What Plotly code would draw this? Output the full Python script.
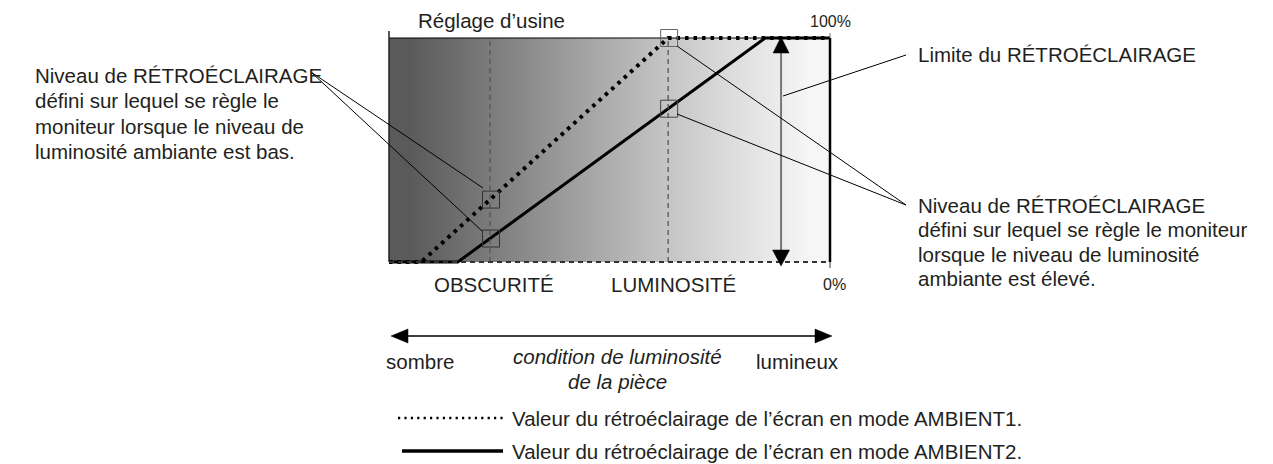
import numpy as np
import plotly.graph_objects as go

# ---------------- data ----------------
# room brightness (0 = dark, 100 = bright) vs backlight level (%)
amb1_x = [0, 7.3, 63.3, 100]      # AMBIENT1 (dotted)
amb1_y = [0, 0, 100, 100]
amb2_x = [0, 15.6, 85.3, 100]     # AMBIENT2 (solid)
amb2_y = [0, 0, 100, 100]
obscurite_x = 22.9                # OBSCURITÉ reference condition
luminosite_x = 63.3               # LUMINOSITÉ reference condition
limit_x = 88.9                    # backlight limit arrow
grad_gray = [90, 106, 123, 140, 157, 174, 190, 205, 220, 233, 246]   # background shade, dark -> bright

left_lines = ["Niveau de RÉTROÉCLAIRAGE", "défini sur lequel se règle le",
              "moniteur lorsque le niveau de", "luminosité ambiante est bas."]
right_lines = ["Niveau de RÉTROÉCLAIRAGE", "défini sur lequel se règle le moniteur",
               "lorsque le niveau de luminosité", "ambiante est élevé."]
legend_labels = ["Valeur du rétroéclairage de l’écran en mode AMBIENT1.",
                 "Valeur du rétroéclairage de l’écran en mode AMBIENT2."]

# ---------------- layout helpers (page pixel -> data) ----------------
W, H = 1273, 464
OFF = 8                           # default page margin around the plot div
L, R, T, B = 389, 830, 38, 262
sx = (R - L) / 100.0
sy = (B - T) / 100.0
def X(px): return (px - L) / sx
def Y(py): return (B - py) / sy

FONT = "Liberation Sans, Arial, Helvetica, sans-serif"
TXT = "#231f20"

fig = go.Figure()

# background gradient
n = len(grad_gray)
centers = [(i + 0.5) * 100.0 / n for i in range(n)]
fig.add_trace(go.Heatmap(
    x=centers, y=[25, 75], z=[grad_gray, grad_gray],
    zmin=0, zmax=255, colorscale=[[0, "rgb(0,0,0)"], [1, "rgb(255,255,255)"]],
    zsmooth="best", showscale=False, hoverinfo="skip"))

shapes = []
def line(x0, y0, x1, y1, color="black", width=1, dash="solid"):
    shapes.append(dict(type="line", xref="x", yref="y", x0=x0, y0=y0, x1=x1, y1=y1,
                       line=dict(color=color, width=width, dash=dash), layer="above"))

# reference dashed verticals
for xv in (obscurite_x, luminosite_x):
    line(xv, 0, xv, 100, color="#555555", width=1.3, dash="5px,4px")

# series
fig.add_trace(go.Scatter(x=amb2_x, y=amb2_y, mode="lines", name="AMBIENT2",
                         line=dict(color="black", width=3), hoverinfo="skip"))
fig.add_trace(go.Scatter(x=amb1_x, y=amb1_y, mode="lines", name="AMBIENT1",
                         line=dict(color="black", width=4, dash="3.5px,5px"), hoverinfo="skip"))

# frame
line(0, 100, 100, 100, color="black", width=1)
line(0, 0, 0, Y(31), color="#222222", width=1.5)
line(0, 0, 100, 0, color="#333333", width=1.8, dash="5px,4px")
line(100, 0, 100, 100, color="black", width=2.5)
line(100, 100, 100, Y(33), color="#777777", width=1)
line(100, 0, 100, Y(268), color="#777777", width=1.5)

# backlight limit double arrow
line(limit_x, Y(52), limit_x, Y(251), color="#777777", width=2)
ax = L + limit_x * sx
def tri(p):
    return "M " + " L ".join(f"{X(a)},{Y(b)}" for a, b in p) + " Z"
shapes.append(dict(type="path", xref="x", yref="y", layer="above",
                   path=tri([(ax, 37), (ax - 8, 53), (ax + 8, 53)]),
                   fillcolor="black", line=dict(color="black", width=0.5)))
shapes.append(dict(type="path", xref="x", yref="y", layer="above",
                   path=tri([(ax, 266), (ax - 8.5, 250), (ax + 8.5, 250)]),
                   fillcolor="black", line=dict(color="black", width=0.5)))

# callout boxes at intersections
box_pts = [(obscurite_x, float(np.interp(obscurite_x, amb1_x, amb1_y)), "#333333"),
           (obscurite_x, float(np.interp(obscurite_x, amb2_x, amb2_y)), "#333333"),
           (luminosite_x, float(np.interp(luminosite_x, amb1_x, amb1_y)), "#666666"),
           (luminosite_x, float(np.interp(luminosite_x, amb2_x, amb2_y)), "#444444")]
hb = 8.5
for bx, by, col in box_pts:
    shapes.append(dict(type="rect", xref="x", yref="y", layer="above",
                       x0=bx + 1 / sx - hb / sx, x1=bx + 1 / sx + hb / sx,
                       y0=by - hb / sy, y1=by + hb / sy,
                       line=dict(color=col, width=1)))

# callout leader lines (pixel positions)
def pline(a, b, c, d, color="black", width=1):
    line(X(a), Y(b), X(c), Y(d), color=color, width=width)
pline(311, 72, 483, 188)
pline(311, 72, 482, 231)
pline(906, 55, 783, 96)
pline(906, 205, 677, 46)
pline(906, 205, 677, 114)

# bottom horizontal double arrow
pline(405, 336, 817, 336, width=1.3)
shapes.append(dict(type="path", xref="x", yref="y", layer="above",
                   path=tri([(391, 336), (408, 329), (408, 343)]),
                   fillcolor="black", line=dict(color="black", width=0.5)))
shapes.append(dict(type="path", xref="x", yref="y", layer="above",
                   path=tri([(832, 336), (815, 329), (815, 343)]),
                   fillcolor="black", line=dict(color="black", width=0.5)))

# legend samples
pline(398, 418, 503, 418, width=2.5)
shapes[-1]["line"]["dash"] = "2.2px,4.2px"
pline(402, 451, 503, 451, width=3.5)

annotations = []
def text(s, px, py, xa="left", size=20.5, italic=False):
    annotations.append(dict(text=(f"<i>{s}</i>" if italic else s), x=X(px), y=Y(py),
                            xref="x", yref="y", xanchor=xa, yanchor="middle",
                            showarrow=False, font=dict(family=FONT, size=size, color=TXT)))

text("Réglage d’usine", 491, 20, xa="center")
text("100%", 808, 21, size=16)
text("0%", 821, 284, size=16)
text("OBSCURITÉ", 494, 284, xa="center")
text("LUMINOSITÉ", 673, 284, xa="center")
for i, s in enumerate(left_lines):
    text(s, 33, 75 + i * 25.5)
text("Limite du RÉTROÉCLAIRAGE", 916, 54)
for i, s in enumerate(right_lines):
    text(s, 916, 205 + i * 24.5)
text("sombre", 420, 361, xa="center")
text("condition de luminosité", 617, 356, xa="center", italic=True)
text("de la pièce", 617, 381, xa="center", italic=True)
text("lumineux", 797, 361, xa="center")
text(legend_labels[0], 510, 418)
text(legend_labels[1], 510, 451)

fig.update_layout(
    width=W - OFF, height=H - OFF, margin=dict(l=0, r=0, t=0, b=0),
    paper_bgcolor="white", plot_bgcolor="white", showlegend=False,
    xaxis=dict(range=[X(OFF), X(W)], visible=False, fixedrange=True),
    yaxis=dict(range=[Y(H), Y(OFF)], visible=False, fixedrange=True),
    shapes=shapes, annotations=annotations)

fig.write_html("out.html", config={"displayModeBar": False})
